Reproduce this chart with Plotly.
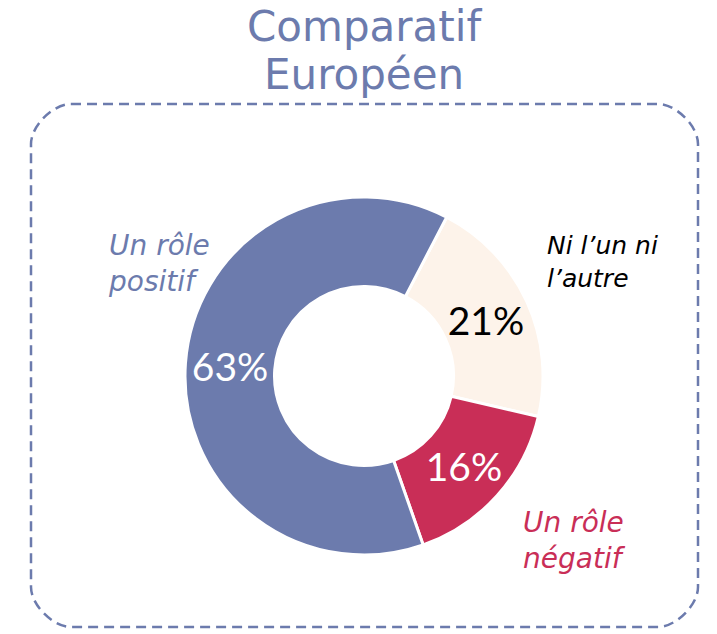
import plotly.graph_objects as go

labels = ["Ni l’un ni l’autre", "Un rôle négatif", "Un rôle positif"]
values = [21, 16, 63]
colors = ["#FDF3EA", "#C92E57", "#6C7BAD"]
text_colors = ["#000000", "#FFFFFF", "#FFFFFF"]
title_lines = ["Comparatif", "Européen"]

W, H = 717, 634

def px(x):
    return x / W

def py(y):
    return 1 - y / H

cx, cy, R = 364, 376, 179

fig = go.Figure()
fig.add_trace(go.Pie(
    labels=labels,
    values=values,
    sort=False,
    direction="clockwise",
    rotation=27.5,
    hole=0.5,
    marker=dict(colors=colors, line=dict(color="white", width=3)),
    texttemplate="%{value}%",
    textposition="inside",
    insidetextorientation="horizontal",
    insidetextfont=dict(family="Lato", size=39, color=text_colors),
    domain=dict(x=[px(cx - R), px(cx + R)], y=[py(cy + R), py(cy - R)]),
    showlegend=False,
    hoverinfo="label+percent",
))

# title (two lines, tighter spacing)
for i, line in enumerate(title_lines):
    fig.add_annotation(text=line, x=px(364), y=py(0 + 48 * i), xref="paper", yref="paper",
                       xanchor="center", yanchor="top", showarrow=False,
                       font=dict(family="DejaVu Sans", size=42, color="#6C7BAD"))

# category labels
lab_font = "DejaVu Sans"
fig.add_annotation(text="<i>Un rôle<br>positif</i>", x=px(106), y=py(227), xref="paper", yref="paper",
                   xanchor="left", yanchor="top", align="left", showarrow=False,
                   font=dict(family=lab_font, size=28, color="#6C7BAD"))
fig.add_annotation(text="<i>Ni l’un ni<br>l’autre</i>", x=px(545), y=py(229), xref="paper", yref="paper",
                   xanchor="left", yanchor="top", align="left", showarrow=False,
                   font=dict(family=lab_font, size=25, color="#000000"))
fig.add_annotation(text="<i>Un rôle<br>négatif</i>", x=px(521), y=py(504), xref="paper", yref="paper",
                   xanchor="left", yanchor="top", align="left", showarrow=False,
                   font=dict(family=lab_font, size=28, color="#C92E57"))

# dashed rounded border
x0, x1, y0, y1, r = 31, 698, 104, 627, 40
k = 0.45 * r
path = (
    f"M {px(x0 + r)},{py(y0)} L {px(x1 - r)},{py(y0)} "
    f"C {px(x1 - r + k)},{py(y0)} {px(x1)},{py(y0 + r - k)} {px(x1)},{py(y0 + r)} "
    f"L {px(x1)},{py(y1 - r)} "
    f"C {px(x1)},{py(y1 - r + k)} {px(x1 - r + k)},{py(y1)} {px(x1 - r)},{py(y1)} "
    f"L {px(x0 + r)},{py(y1)} "
    f"C {px(x0 + r - k)},{py(y1)} {px(x0)},{py(y1 - r + k)} {px(x0)},{py(y1 - r)} "
    f"L {px(x0)},{py(y0 + r)} "
    f"C {px(x0)},{py(y0 + r - k)} {px(x0 + r - k)},{py(y0)} {px(x0 + r)},{py(y0)} Z"
)
fig.add_shape(type="path", path=path, xref="paper", yref="paper",
              line=dict(color="#6C7BAD", width=2.5, dash="10px,6px"))

fig.update_layout(width=W, height=H, margin=dict(l=0, r=0, t=0, b=0),
                  paper_bgcolor="white", plot_bgcolor="white")

fig.write_html("out.html", config={"displayModeBar": False},
               post_script="document.body.style.margin='0';")
